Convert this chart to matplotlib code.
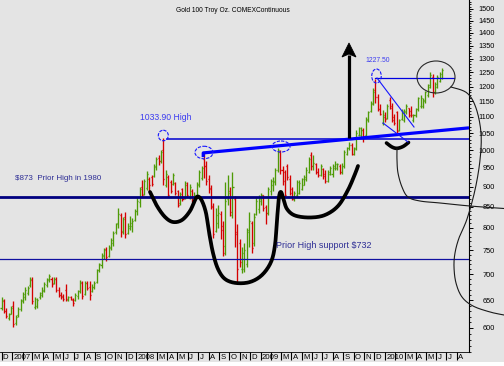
import numpy as np
import pandas as pd
import matplotlib
matplotlib.use('Agg')
import matplotlib.pyplot as plt
import matplotlib.dates as mdates
from matplotlib.patches import Ellipse, Polygon, Rectangle
from matplotlib.ticker import FixedLocator, NullFormatter, FuncFormatter

plt.rcParams['font.family'] = ['Liberation Sans', 'DejaVu Sans']

# ---------------- data: weekly OHLC, Gold 100 oz COMEX continuous ----------------
first_week = '2006-12-01'

opens = [
    636, 648, 630, 617, 625,            # Dec 06
    640, 608, 622, 633,                 # Jan 07
    648, 655, 663, 678,                 # Feb
    688, 638, 640, 655, 660,            # Mar
    668, 678, 688, 690,                 # Apr
    682, 690, 670, 660,                 # May
    657, 670, 650, 656, 650,            # Jun
    651, 657, 667, 683,                 # Jul
    662, 682, 675, 667, 674,            # Aug
    684, 708, 718, 738,                 # Sep
    752, 738, 755, 765,                 # Oct
    790, 810, 830, 792, 825,            # Nov
    788, 800, 805, 818,                 # Dec
    840, 862, 900, 882,                 # Jan 08
    898, 920, 925, 928, 952,            # Feb
    978, 968, 1000, 905,                # Mar
    925, 912, 908, 910,                 # Apr
    888, 858, 895, 872, 905,            # May
    872, 890, 862, 876,                 # Jun
    905, 922, 975, 955,                 # Jul
    920, 898, 850, 792, 810,            # Aug
    832, 805, 760, 870,                 # Sep
    890, 830, 870, 790, 765,            # Oct
    710, 710, 720, 790,                 # Nov
    812, 765, 832, 845,                 # Dec
    865, 878, 850, 835, 890,            # Jan 09
    905, 912, 945, 995,                 # Feb
    945, 938, 955, 920,                 # Mar
    895, 868, 878, 885,                 # Apr
    895, 905, 920, 940, 985,            # May
    955, 960, 940, 932,                 # Jun
    948, 935, 915, 935, 935,            # Jul
    950, 950, 955, 940,                 # Aug
    955, 990, 1005, 1015,               # Sep
    990, 1005, 1045, 1045, 1060,        # Oct
    1045, 1090, 1118, 1142,             # Nov
    1190, 1165, 1125, 1080,             # Dec
    1100, 1098, 1155, 1135, 1100,       # Jan 10
    1115, 1060, 1092, 1090,             # Feb
    1115, 1128, 1120, 1090,             # Mar
    1105, 1125, 1135, 1135, 1150,       # Apr
    1170, 1200, 1235, 1180,             # May
    1200, 1220, 1230,                   # Jun
]

highs = [
    656, 653, 635, 627, 639,            # Dec 06
    648, 622, 637, 653,                 # Jan 07
    665, 674, 676, 695,                 # Feb
    694, 656, 654, 666, 674,            # Mar
    684, 692, 700, 694,                 # Apr
    694, 694, 675, 665,                 # May
    661, 680, 658, 658, 654,            # Jun
    663, 670, 688, 686,                 # Jul
    686, 686, 686, 680, 686,            # Aug
    711, 724, 745, 755,                 # Sep
    758, 762, 776, 792,                 # Oct
    812, 848, 835, 825, 836,            # Nov
    812, 828, 822, 845,                 # Dec
    873, 900, 918, 920,                 # Jan 08
    943, 925, 930, 960, 980,            # Feb
    985, 1000, 1034, 944,               # Mar
    930, 918, 937, 912,                 # Apr
    891, 886, 898, 915, 912,            # May
    906, 895, 886, 912,                 # Jun
    944, 955, 992, 970,                 # Jul
    930, 905, 860, 846, 855,            # Aug
    840, 815, 912, 930,                 # Sep
    900, 940, 876, 809, 775,            # Oct
    757, 765, 800, 838,                 # Nov
    815, 835, 873, 880,                 # Dec
    885, 880, 855, 900, 920,            # Jan 09
    925, 950, 1007, 1000,               # Feb
    955, 945, 962, 930,                 # Mar
    900, 890, 918, 918,                 # Apr
    924, 930, 953, 980, 994,            # May
    985, 965, 950, 960,                 # Jun
    950, 945, 945, 955, 960,            # Jul
    970, 965, 960, 965,                 # Aug
    1000, 1010, 1025, 1020,             # Sep
    1010, 1060, 1070, 1068, 1065,       # Oct
    1100, 1120, 1150, 1195,             # Nov
    1228, 1175, 1140, 1122,             # Dec
    1115, 1140, 1165, 1145, 1110,       # Jan 10
    1120, 1095, 1125, 1125,             # Feb
    1140, 1130, 1135, 1110,             # Mar
    1130, 1165, 1170, 1160, 1185,       # Apr
    1210, 1250, 1245, 1215,             # May
    1240, 1252, 1265,                   # Jun
]

lows = [
    632, 627, 618, 614, 624,            # Dec 06
    602, 605, 620, 630,                 # Jan 07
    645, 650, 660, 675,                 # Feb
    642, 634, 636, 652, 656,            # Mar
    665, 674, 684, 674,                 # Apr
    680, 666, 656, 652,                 # May
    649, 649, 648, 650, 640,            # Jun
    649, 653, 664, 652,                 # Jul
    660, 670, 650, 665, 672,            # Aug
    682, 704, 713, 732,                 # Sep
    727, 735, 751, 760,                 # Oct
    785, 800, 780, 785, 778,            # Nov
    785, 795, 790, 815,                 # Dec
    830, 850, 873, 880,                 # Jan 08
    893, 888, 902, 926, 945,            # Feb
    958, 963, 905, 899,                 # Mar
    873, 885, 905, 880,                 # Apr
    850, 855, 864, 870, 875,            # May
    868, 861, 860, 873,                 # Jun
    899, 918, 923, 905,                 # Jul
    885, 845, 778, 790, 800,            # Aug
    775, 738, 740, 855,                 # Sep
    828, 822, 757, 683, 715,            # Oct
    703, 705, 715, 757,                 # Nov
    745, 760, 830, 835,                 # Dec
    855, 840, 808, 830, 880,            # Jan 09
    888, 905, 940, 935,                 # Feb
    905, 875, 918, 880,                 # Mar
    866, 865, 873, 881,                 # Apr
    893, 905, 915, 936, 944,            # May
    945, 935, 925, 928,                 # Jun
    920, 910, 912, 930, 925,            # Jul
    945, 945, 935, 935,                 # Aug
    950, 985, 1000, 985,                # Sep
    985, 1000, 1040, 1035, 1025,        # Oct
    1040, 1085, 1115, 1138,             # Nov
    1145, 1118, 1105, 1075,             # Dec
    1085, 1095, 1125, 1085, 1075,       # Jan 10
    1045, 1055, 1090, 1085,             # Feb
    1110, 1100, 1100, 1085,             # Mar
    1100, 1120, 1130, 1130, 1145,       # Apr
    1165, 1195, 1165, 1175,             # May
    1195, 1215, 1225,                   # Jun
]

closes = [
    650, 630, 621, 624, 636,            # Dec 06
    607, 620, 634, 650,                 # Jan 07
    662, 670, 673, 690,                 # Feb
    648, 652, 651, 663, 670,            # Mar
    681, 690, 697, 680,                 # Apr
    690, 670, 660, 655,                 # May
    652, 652, 656, 652, 645,            # Jun
    660, 667, 684, 658,                 # Jul
    682, 673, 660, 675, 682,            # Aug
    708, 720, 740, 750,                 # Sep
    735, 758, 772, 788,                 # Oct
    808, 832, 790, 820, 785,            # Nov
    805, 812, 815, 840,                 # Dec
    865, 895, 880, 915,                 # Jan 08
    935, 905, 908, 955, 975,            # Feb
    970, 995, 920, 935,                 # Mar
    880, 890, 930, 885,                 # Apr
    855, 882, 868, 910, 880,            # May
    900, 865, 880, 908,                 # Jun
    938, 950, 955, 915,                 # Jul
    895, 852, 785, 830, 835,            # Aug
    795, 745, 865, 885,                 # Sep
    838, 900, 785, 710, 725,            # Oct
    745, 750, 795, 815,                 # Nov
    755, 825, 865, 870,                 # Dec
    880, 848, 835, 895, 915,            # Jan 09
    915, 945, 1000, 945,                # Feb
    915, 880, 925, 885,                 # Mar
    870, 885, 912, 910,                 # Apr
    920, 925, 945, 975, 955,            # May
    965, 940, 930, 955,                 # Jun
    928, 915, 940, 950, 955,            # Jul
    960, 960, 940, 955,                 # Aug
    995, 1005, 1015, 990,               # Sep
    1003, 1050, 1065, 1060, 1040,       # Oct
    1095, 1115, 1145, 1180,             # Nov
    1165, 1125, 1110, 1105,             # Dec
    1095, 1135, 1130, 1090, 1080,       # Jan 10
    1055, 1090, 1120, 1118,             # Feb
    1135, 1105, 1105, 1105,             # Mar
    1125, 1160, 1160, 1155, 1180,       # Apr
    1205, 1240, 1180, 1210,             # May
    1235, 1245, 1258,                   # Jun
]

y_ticks = [600, 650, 700, 750, 800, 850, 900, 950, 1000, 1050, 1100, 1150,
           1200, 1250, 1300, 1350, 1400, 1450, 1500]
support_1980 = 873
support_732 = 732
high_2008 = 1033.9
high_2009 = 1227.5

# ---------------- figure ----------------
BG = '#e4e4e4'
GREEN = '#4e9a06'
RED = '#d40000'
fig = plt.figure(figsize=(5.04, 3.66), dpi=100, facecolor=BG)
fig.patches.append(Rectangle((0, 0), 1, 4.5 / 366, transform=fig.transFigure,
                             facecolor='white', edgecolor='none', zorder=-5))
ax = fig.add_axes([0, 14 / 366, 469 / 504, 352 / 366], facecolor=BG)

o = np.array(opens, float); h = np.array(highs, float)
l = np.array(lows, float); c = np.array(closes, float)
dates = pd.date_range(first_week, periods=len(h), freq='W-FRI')
x = mdates.date2num(dates)
cols = np.where(c >= o, GREEN, RED)
ax.vlines(x, l, h, colors=cols, lw=0.95, zorder=2)
ax.hlines(o, x - 3.0, x, colors=cols, lw=0.95, zorder=2)
ax.hlines(c, x, x + 3.0, colors=cols, lw=0.95, zorder=2)

ax.set_yscale('log')
ax.set_ylim(560, 1539)
px_per_day = 0.3402
x0 = mdates.date2num(pd.Timestamp('2006-12-01')) - 1.5 / px_per_day
x1 = x0 + 469 / px_per_day
ax.set_xlim(x0, x1)

# horizontal support lines
ax.axhline(support_1980, color='#000080', lw=2.0, zorder=3)
ax.axhline(support_732, color='#1010a0', lw=0.9, zorder=3)
d_hi08 = mdates.date2num(pd.Timestamp('2008-03-18'))
ax.plot([d_hi08 + 14, x1], [high_2008, high_2008], color='#0000d0', lw=1.1, zorder=3)
d_hi09 = mdates.date2num(pd.Timestamp('2009-12-04'))
d_end = mdates.date2num(pd.Timestamp('2010-07-23'))
ax.plot([d_hi09, d_end], [1230, 1230], color='#0000e0', lw=0.9, zorder=3)
# rising neckline
d_jul08 = mdates.date2num(pd.Timestamp('2008-07-16'))
ax.plot([d_jul08, d_jul08, x1], [980, 992, 1066], color='#0000ff', lw=2.3,
        zorder=3, solid_capstyle='butt')

# y axis on right
ax.yaxis.tick_right()
ax.yaxis.set_major_locator(FixedLocator(y_ticks))
minors = [v for v in range(560, 1540, 10) if v not in y_ticks]
ax.yaxis.set_minor_locator(FixedLocator(minors))
ax.yaxis.set_major_formatter(FuncFormatter(lambda v, p: f'{v:.0f}'))
ax.yaxis.set_minor_formatter(NullFormatter())
ax.tick_params(axis='y', which='major', length=3, width=0.7, pad=15.5,
               labelsize=5.3, direction='out', colors='black')
ax.tick_params(axis='y', which='minor', length=1.5, width=0.6, direction='out')
for t in ax.get_yticklabels():
    t.set_ha('right')

# x axis months
months = pd.date_range('2006-12-01', '2010-08-01', freq='MS')
mx = mdates.date2num(months)
ax.xaxis.set_major_locator(FixedLocator(mx))
ax.xaxis.set_major_formatter(NullFormatter())
ax.xaxis.set_minor_locator(FixedLocator([]))
ax.tick_params(axis='x', which='major', length=6.0, width=0.8, direction='out')
xtr = ax.get_xaxis_transform()
for m, mv in zip(months, mx):
    if m.month == 1:
        lab = str(m.year)
    elif m.month == 2:
        lab = ''
    else:
        lab = m.strftime('%b')[0]
    ax.text(mv + 4.0, -2.2 / 352, lab, transform=xtr, ha='left', va='top',
            fontsize=5.6, color='black')

for s in ['left', 'top']:
    ax.spines[s].set_visible(False)
ax.spines['right'].set_linewidth(0.8)
ax.spines['bottom'].set_linewidth(0.6)

# ---------------- freehand overlay (pixel coordinates) ----------------
ov = fig.add_axes([0, 0, 1, 1], zorder=5)
ov.set_xlim(0, 504)
ov.set_ylim(366, 0)
ov.axis('off')
ov.patch.set_alpha(0)


def smooth(pts, n=14):
    P = np.array(pts, float)
    P = np.vstack([P[0], P, P[-1]])
    out = []
    t = np.linspace(0, 1, n, endpoint=False)[:, None]
    for i in range(1, len(P) - 2):
        p0, p1, p2, p3 = P[i - 1], P[i], P[i + 1], P[i + 2]
        out.append(0.5 * ((2 * p1) + (-p0 + p2) * t + (2 * p0 - 5 * p1 + 4 * p2 - p3) * t ** 2
                          + (-p0 + 3 * p1 - 3 * p2 + p3) * t ** 3))
    out.append(P[-2][None, :])
    return np.vstack(out)


head = [(150, 192), (157, 206), (165, 217), (173, 222), (182, 220), (190, 211),
        (195, 200), (198, 196.5), (202, 201), (206, 213), (209, 232), (213, 253),
        (218, 269), (225, 279), (236, 283), (250, 282), (262, 275), (271, 262),
        (275, 245), (277, 220), (279, 197), (281, 192), (283.5, 199), (287, 209),
        (295, 215.5), (310, 217.5), (325, 215), (338, 206), (348, 190), (355, 174),
        (358, 166)]
hp = smooth(head)
ov.plot(hp[:, 0], hp[:, 1], color='black', lw=2.7, solid_capstyle='round')

smile = [(386.5, 143), (392, 147), (397, 148.3), (403, 146.5), (408.5, 142.5)]
sp = smooth(smile)
ov.plot(sp[:, 0], sp[:, 1], color='black', lw=2.6, solid_capstyle='round')

tail1 = [(397, 149), (397, 160), (398, 173), (402, 187), (408, 197), (420, 201),
         (440, 203), (470, 206), (504, 208.5)]
t1 = smooth(tail1)
ov.plot(t1[:, 0], t1[:, 1], color='#1a1a1a', lw=0.8)

tail2 = [(451, 87), (467, 93), (476, 108), (481, 133), (480, 160), (475, 190),
         (467, 219), (459, 238), (455, 253), (454, 267), (456, 283), (462, 297),
         (473, 306), (490, 312), (504, 315)]
t2 = smooth(tail2)
ov.plot(t2[:, 0], t2[:, 1], color='#1a1a1a', lw=0.8)

# arrow
ov.plot([349, 349], [138, 55], color='black', lw=2.3, solid_capstyle='butt')
ov.add_patch(Polygon([(349, 43), (342, 57), (349, 54), (356, 57)], closed=True,
                     facecolor='black', edgecolor='black', lw=0.6))

# ellipses
ell_blue = dict(fill=False, edgecolor='#1515ff', lw=0.8, linestyle=(0, (3, 1.2)))
ov.add_patch(Ellipse((163.3, 135.5), 10, 10.5, **ell_blue))
ov.add_patch(Ellipse((204, 152.5), 18, 12.5, **ell_blue))
ov.add_patch(Ellipse((281, 146.5), 18, 11, **ell_blue))
ov.add_patch(Ellipse((376.5, 76), 9.5, 14, **ell_blue))
ov.add_patch(Ellipse((436, 77), 38, 32, fill=False, edgecolor='#2a2a2a', lw=0.8))

# flag lines
ov.plot([377, 414], [78, 127], color='#1515ff', lw=0.8)
ov.plot([383, 408], [123, 142], color='#1515ff', lw=0.8)

# texts
ov.text(233, 10, 'Gold 100 Troy Oz. COMEXContinuous', ha='center', va='center',
        fontsize=4.8, color='black')
ov.text(140, 118, '1033.90 High', ha='left', va='center', fontsize=6.2, color='#3c3cf0')
ov.text(365, 61, '1227.50', ha='left', va='center', fontsize=4.9, color='#3c3cf0')
ov.text(15, 179, '$873  Prior High in 1980', ha='left', va='center', fontsize=5.8,
        color='#2e2e95')
ov.text(276, 245, 'Prior High support $732', ha='left', va='center', fontsize=6.5,
        color='#2e2e95')

fig.savefig('out.png', dpi=100, facecolor=BG)
